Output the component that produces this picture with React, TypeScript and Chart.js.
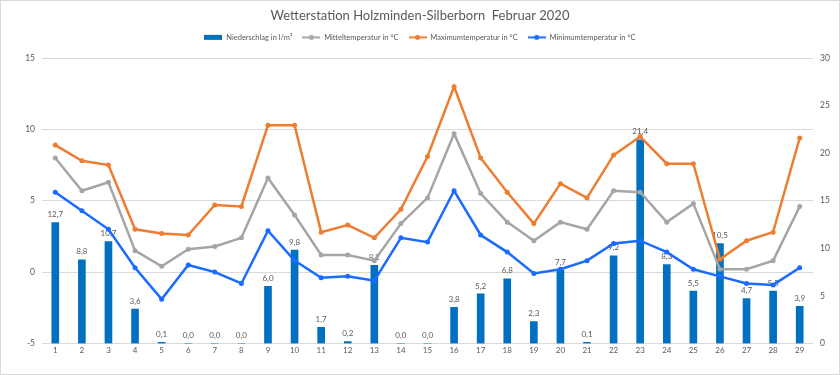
import React, { useEffect, useRef } from 'react';
import { Chart, registerables, layouts } from 'chart.js';

Chart.register(...registerables);

const days = ['1','2','3','4','5','6','7','8','9','10','11','12','13','14','15','16','17','18','19','20','21','22','23','24','25','26','27','28','29'];
const precipitation = [12.7, 8.8, 10.7, 3.6, 0.1, 0.0, 0.0, 0.0, 6.0, 9.8, 1.7, 0.2, 8.2, 0.0, 0.0, 3.8, 5.2, 6.8, 2.3, 7.7, 0.1, 9.2, 21.4, 8.3, 5.5, 10.5, 4.7, 5.5, 3.9];
const meanTemp = [8.0, 5.7, 6.3, 1.5, 0.4, 1.6, 1.8, 2.4, 6.6, 4.0, 1.2, 1.2, 0.8, 3.4, 5.2, 9.7, 5.5, 3.5, 2.2, 3.5, 3.0, 5.7, 5.6, 3.5, 4.8, 0.2, 0.2, 0.8, 4.6];
const maxTemp = [8.9, 7.8, 7.5, 3.0, 2.7, 2.6, 4.7, 4.6, 10.3, 10.3, 2.8, 3.3, 2.4, 4.4, 8.1, 13.0, 8.0, 5.6, 3.4, 6.2, 5.2, 8.2, 9.5, 7.6, 7.6, 0.9, 2.2, 2.8, 9.4];
const minTemp = [5.6, 4.3, 3.0, 0.3, -1.9, 0.5, 0.0, -0.8, 2.9, 0.8, -0.4, -0.3, -0.6, 2.4, 2.1, 5.7, 2.6, 1.4, -0.1, 0.2, 0.8, 2.0, 2.2, 1.4, 0.2, -0.3, -0.8, -0.9, 0.3];

const seriesNames = ['Niederschlag in l/m²', 'Mitteltemperatur in °C', 'Maximumtemperatur in °C', 'Minimumtemperatur in °C'];
const titleText = 'Wetterstation Holzminden-Silberborn  Februar 2020';
const tempAxis = { min: -5, max: 15, step: 5 };
const rainAxis = { min: 0, max: 30, step: 5 };

const BAR = '#0070C0';
const GRAY = '#A5A5A5';
const ORANGE = '#ED7D31';
const BLUE = '#1A6BFF';
const TEXT = '#595959';
const FONT = 'Lato, "Liberation Sans", sans-serif';

function makeMarker(color: string, isBar: boolean) {
  const c = document.createElement('canvas');
  c.width = 18;
  c.height = 7;
  const ctx = c.getContext('2d')!;
  if (isBar) {
    ctx.fillStyle = color;
    ctx.fillRect(0, 1, 18, 5);
  } else {
    ctx.strokeStyle = color;
    ctx.lineWidth = 2;
    ctx.beginPath();
    ctx.moveTo(0, 3.5);
    ctx.lineTo(18, 3.5);
    ctx.stroke();
    ctx.fillStyle = color;
    ctx.beginPath();
    ctx.arc(9, 3.5, 2.5, 0, Math.PI * 2);
    ctx.fill();
  }
  return c;
}

const barLabels = {
  id: 'barLabels',
  afterDatasetDraw(chart: any, args: any) {
    if (args.index !== 0) return;
    const ctx = chart.ctx;
    const meta = chart.getDatasetMeta(0);
    ctx.save();
    ctx.fillStyle = TEXT;
    ctx.font = '8px ' + FONT;
    ctx.textAlign = 'center';
    ctx.textBaseline = 'middle';
    meta.data.forEach((el: any, i: number) => {
      const v = precipitation[i];
      ctx.fillText(v.toFixed(1).replace('.', ','), el.x, el.y - 8);
    });
    ctx.restore();
  },
};

const frame = {
  id: 'frame',
  beforeDraw(chart: any) {
    const ctx = chart.ctx;
    ctx.save();
    ctx.fillStyle = '#ffffff';
    ctx.fillRect(0, 0, chart.width, chart.height);
    ctx.strokeStyle = '#d9d9d9';
    ctx.lineWidth = 1;
    ctx.strokeRect(0.5, 0.5, chart.width - 1, chart.height - 1);
    ctx.restore();
  },
};

// empty layout box that adds a gap between the legend and the plot area
const legendGap = {
  id: 'legendGap',
  beforeInit(chart: any) {
    const box: any = {
      position: 'top',
      weight: 0,
      fullSize: true,
      options: {},
      top: 0, left: 0, bottom: 0, right: 0, width: 0, height: 0,
      isHorizontal: () => true,
      update(maxWidth: number) {
        box.width = maxWidth;
        box.height = 7;
      },
      draw() {},
    };
    layouts.addBox(chart, box);
  },
};

export default function App() {
  const ref = useRef<HTMLCanvasElement>(null);
  useEffect(() => {
    document.body.style.margin = '0';
    const markers = [makeMarker(BAR, true), makeMarker(GRAY, false), makeMarker(ORANGE, false), makeMarker(BLUE, false)];
    const lineDs = (label: string, data: number[], color: string, order: number) => ({
      type: 'line' as const,
      label,
      data,
      borderColor: color,
      backgroundColor: color,
      borderWidth: 2.5,
      pointRadius: 2.5,
      pointBackgroundColor: color,
      pointBorderWidth: 0,
      yAxisID: 'y',
      tension: 0,
      order,
    });
    const chart = new Chart(ref.current!, {
      type: 'bar',
      data: {
        labels: days,
        datasets: [
          {
            type: 'bar',
            label: seriesNames[0],
            data: precipitation,
            backgroundColor: BAR,
            barThickness: 7,
            yAxisID: 'y1',
            order: 10,
          } as any,
          lineDs(seriesNames[1], meanTemp, GRAY, 3),
          lineDs(seriesNames[2], maxTemp, ORANGE, 2),
          lineDs(seriesNames[3], minTemp, BLUE, 1),
        ],
      },
      options: {
        animation: false,
        responsive: false,
        layout: { padding: { top: 0, bottom: 18, left: 0, right: 0 } },
        plugins: {
          title: {
            display: true,
            text: titleText,
            color: TEXT,
            font: { family: FONT, size: 13, weight: 'normal' },
            padding: { top: 8, bottom: 0 },
          },
          legend: {
            display: true,
            position: 'top',
            labels: {
              usePointStyle: true,
              pointStyleWidth: 18,
              boxHeight: 7,
              padding: 10,
              color: TEXT,
              font: { family: FONT, size: 7.5 },
              generateLabels: () =>
                seriesNames.map((t, i) => ({
                  text: t,
                  datasetIndex: i,
                  pointStyle: markers[i] as any,
                  fillStyle: 'transparent',
                  strokeStyle: 'transparent',
                  lineWidth: 0,
                  fontColor: TEXT,
                  hidden: false,
                })),
            },
          },
          tooltip: { enabled: false },
        },
        scales: {
          x: {
            offset: true,
            grid: { display: false, drawTicks: false },
            border: { display: false },
            ticks: { color: TEXT, font: { family: FONT, size: 8 }, padding: 2, maxRotation: 0, autoSkip: false },
          },
          y: {
            position: 'left',
            min: tempAxis.min,
            max: tempAxis.max,
            ticks: { stepSize: tempAxis.step, color: TEXT, font: { family: FONT, size: 8.5 }, padding: 7 },
            grid: { color: '#d9d9d9', drawTicks: false },
            border: { display: false },
            afterFit: (s: any) => { s.width = 42; },
          },
          y1: {
            position: 'right',
            min: rainAxis.min,
            max: rainAxis.max,
            ticks: { stepSize: rainAxis.step, color: TEXT, font: { family: FONT, size: 8.5 }, padding: 7 },
            grid: { display: false, drawTicks: false },
            border: { display: false },
            afterFit: (s: any) => { s.width = 27; },
          },
        },
      },
      plugins: [frame, legendGap, barLabels],
    });
    return () => chart.destroy();
  }, []);
  return <canvas ref={ref} width={840} height={375} style={{ display: 'block' }} />;
}
